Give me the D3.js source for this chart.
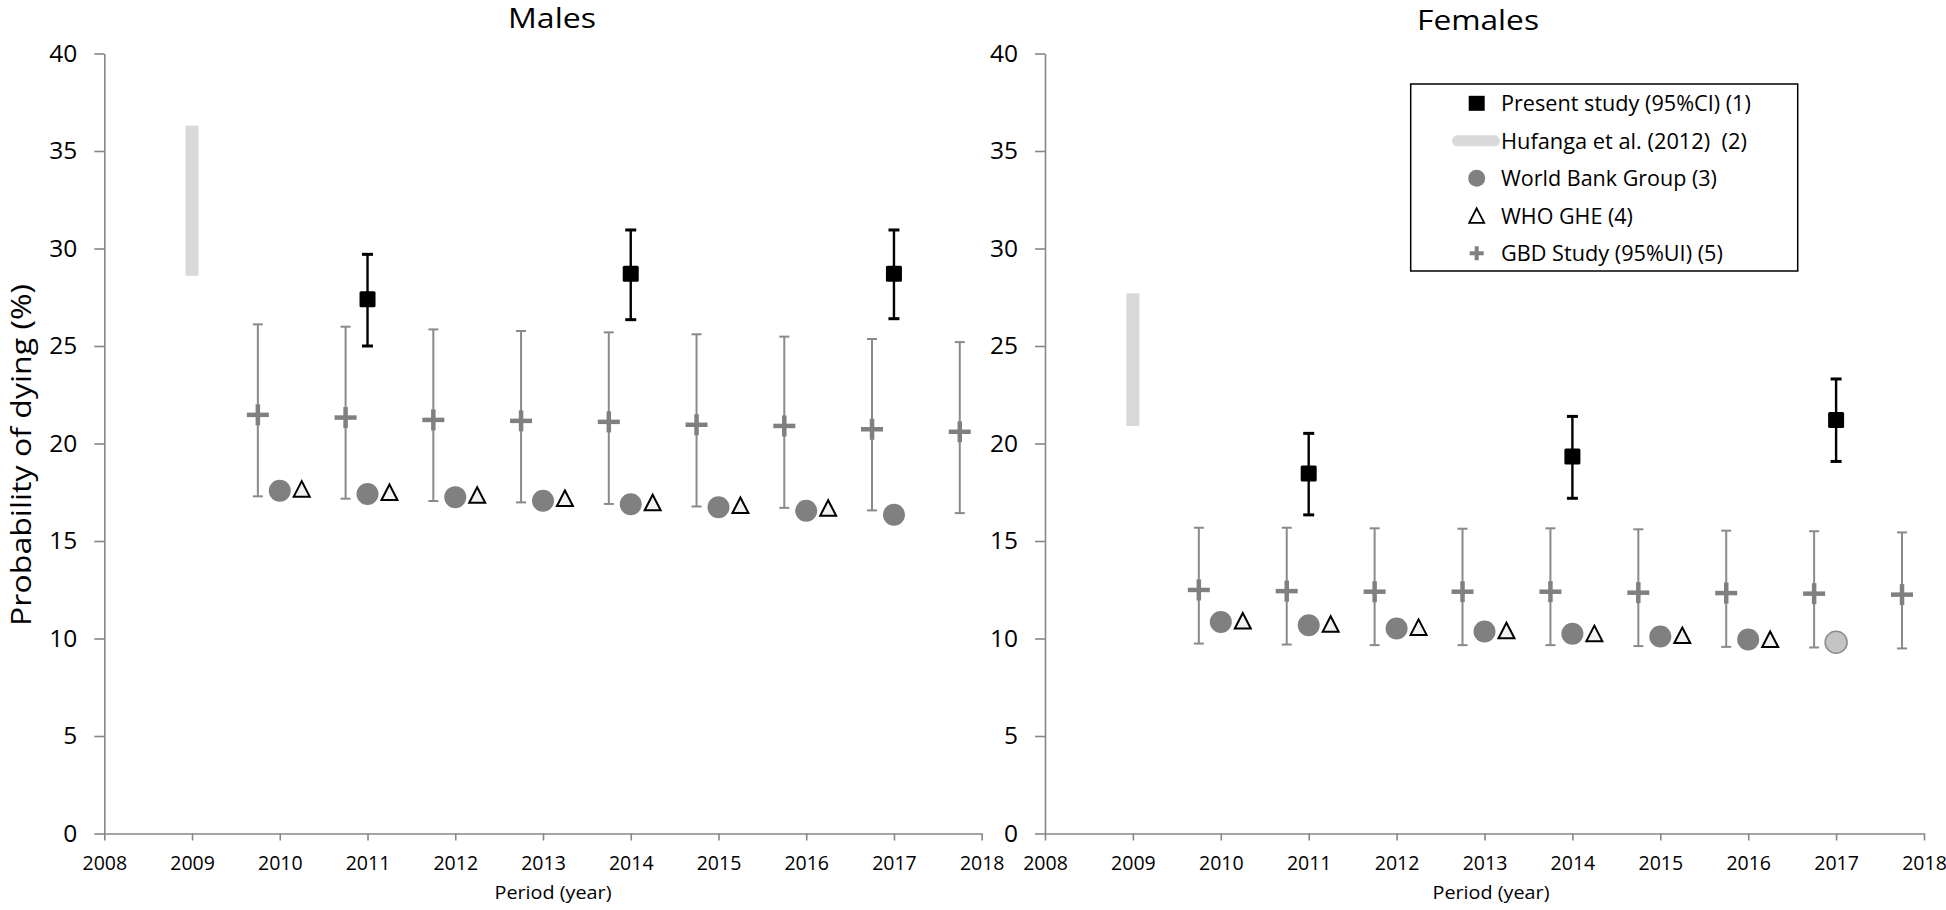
<!DOCTYPE html>
<html><head><meta charset="utf-8">
<script src="https://cdn.jsdelivr.net/npm/d3@7"></script>
<style>
html,body{margin:0;padding:0;background:#fff;}
svg{display:block;font-family:"Open Sans",Lato,sans-serif;}
</style></head>
<body>
<svg id="chart" width="1946" height="910"></svg>
<script>
// ---- data ----
const xTickYears = [2008,2009,2010,2011,2012,2013,2014,2015,2016,2017,2018];
const yTickValues = [0,5,10,15,20,25,30,35,40];

const presentYears = [2011, 2014, 2017];
const gbdYears = [2010,2011,2012,2013,2014,2015,2016,2017,2018];
const wbYears = [2010,2011,2012,2013,2014,2015,2016,2017];
const whoYears = [2010,2011,2012,2013,2014,2015,2016];
const hufangaYear = 2009;

// Males
const malePresent = [27.4, 28.7, 28.7];
const malePresentLo = [25.0, 26.35, 26.4];
const malePresentHi = [29.7, 30.95, 30.95];
const maleHufanga = [28.6, 36.3];
const maleGbd = [21.47, 21.33, 21.21, 21.16, 21.11, 20.96, 20.9, 20.73, 20.6];
const maleGbdLo = [17.29, 17.17, 17.05, 16.98, 16.9, 16.77, 16.7, 16.57, 16.43];
const maleGbdHi = [26.11, 25.99, 25.85, 25.77, 25.7, 25.6, 25.48, 25.36, 25.2];
const maleWb = [17.58, 17.41, 17.25, 17.06, 16.88, 16.73, 16.55, 16.35];
const maleWho = [17.66, 17.49, 17.35, 17.18, 16.96, 16.82, 16.68];

// Females
const femalePresent = [18.46, 19.33, 21.21];
const femalePresentLo = [16.34, 17.19, 19.08];
const femalePresentHi = [20.52, 21.39, 23.31];
const femaleHufanga = [20.9, 27.7];
const femaleGbd = [12.49, 12.43, 12.4, 12.4, 12.4, 12.35, 12.33, 12.3, 12.25];
const femaleGbdLo = [9.74, 9.69, 9.66, 9.66, 9.66, 9.61, 9.57, 9.54, 9.49];
const femaleGbdHi = [15.68, 15.68, 15.65, 15.63, 15.65, 15.6, 15.53, 15.5, 15.44];
const femaleWb = [10.85, 10.68, 10.51, 10.36, 10.24, 10.1, 9.95, 9.81];
const femaleWho = [10.9, 10.73, 10.57, 10.4, 10.25, 10.15, 9.95];
const femaleWbLightYear = 2017;

const legendLabels = ["Present study (95%CI) (1)", "Hufanga et al. (2012)\u00A0\u00A0(2)", "World Bank Group (3)", "WHO GHE (4)", "GBD Study (95%UI) (5)"];
const legendWidths = [250, 246, 216, 132, 222];

// ---- style ----
const axisColor = "#878787";
const gbdColor = "#8a8a8a";
const plusColor = "#808080";
const wbColor = "#808080";
const hufColor = "#d9d9d9";

const svg = d3.select("#chart");
const y = d3.scaleLinear().domain([0,40]).range([833.5, 53.5]);

function zip3(a,b,c){ return a.map((v,i)=>({v, lo:b[i], hi:c[i]})); }

// place a text at (x,y) and stretch it horizontally to a target width
function fitText(sel, x, yy, targetW, anchor, rot){
  sel.attr("x",0).attr("y",0).attr("text-anchor",anchor||"start");
  const w = sel.node().getComputedTextLength();
  const k = w > 0 ? targetW / w : 1;
  sel.attr("transform", `translate(${x},${yy})${rot ? ` rotate(${rot})` : ""} scale(${k},1)`);
}

function drawPanel(opts){
  const x = d3.scaleLinear().domain([2008,2018]).range(opts.xr);
  const g = svg.append("g");

  // y axis
  const ya = g.append("g").attr("transform",`translate(${opts.xr[0]},0)`)
    .call(d3.axisLeft(y).tickValues(yTickValues).tickSize(10).tickPadding(17).tickSizeOuter(0));
  ya.select(".domain").attr("stroke",axisColor).attr("stroke-width",1.6);
  ya.selectAll(".tick line").attr("stroke",axisColor).attr("stroke-width",1.6);
  ya.selectAll(".tick text").attr("font-size",24.5).attr("fill","#000").attr("font-family","Open Sans");

  // x axis
  const xa = g.append("g").attr("transform",`translate(0,${y(0)})`)
    .call(d3.axisBottom(x).tickValues(xTickYears).tickFormat(d3.format("d")).tickSize(7).tickPadding(16).tickSizeOuter(0));
  xa.select(".domain").attr("stroke",axisColor).attr("stroke-width",1.6);
  xa.selectAll(".tick line").attr("stroke",axisColor).attr("stroke-width",1.6);
  xa.selectAll(".tick text").attr("font-size",19.5).attr("fill","#000").attr("font-family","Open Sans");

  // titles
  const t = g.append("text").attr("font-size",26.5).text(opts.title);
  fitText(t, opts.titleX, opts.titleY, opts.titleW, "middle");
  const pt = g.append("text").attr("font-size",18.5).text("Period (year)");
  fitText(pt, opts.xTitleX, 899, 117, "middle");

  // Hufanga bar
  g.append("rect").datum(opts.huf)
    .attr("x", x(hufangaYear)-6.5).attr("width",13)
    .attr("y", d=>y(d[1])).attr("height", d=>y(d[0])-y(d[1]))
    .attr("fill",hufColor);

  // GBD error bars + plus
  const gbdData = zip3(opts.gbd, opts.gbdLo, opts.gbdHi).map((d,i)=>({...d, yr: gbdYears[i]-0.25}));
  const gg = g.append("g").selectAll("g").data(gbdData).join("g");
  gg.append("line").attr("x1",d=>x(d.yr)).attr("x2",d=>x(d.yr)).attr("y1",d=>y(d.lo)).attr("y2",d=>y(d.hi))
    .attr("stroke",gbdColor).attr("stroke-width",2);
  gg.append("line").attr("x1",d=>x(d.yr)-5).attr("x2",d=>x(d.yr)+5).attr("y1",d=>y(d.lo)).attr("y2",d=>y(d.lo))
    .attr("stroke",gbdColor).attr("stroke-width",2);
  gg.append("line").attr("x1",d=>x(d.yr)-5).attr("x2",d=>x(d.yr)+5).attr("y1",d=>y(d.hi)).attr("y2",d=>y(d.hi))
    .attr("stroke",gbdColor).attr("stroke-width",2);
  gg.append("line").attr("x1",d=>x(d.yr)-11).attr("x2",d=>x(d.yr)+11).attr("y1",d=>y(d.v)).attr("y2",d=>y(d.v))
    .attr("stroke",plusColor).attr("stroke-width",4.5);
  gg.append("line").attr("x1",d=>x(d.yr)).attr("x2",d=>x(d.yr)).attr("y1",d=>y(d.v)-10.5).attr("y2",d=>y(d.v)+10.5)
    .attr("stroke",plusColor).attr("stroke-width",4.5);

  // World Bank circles
  g.append("g").selectAll("circle").data(opts.wb.map((v,i)=>({v, yr: wbYears[i]}))).join("circle")
    .attr("cx",d=>x(d.yr)).attr("cy",d=>y(d.v)).attr("r",11)
    .attr("fill",d=> (opts.lightYear===d.yr) ? "#c4c4c4" : wbColor)
    .attr("stroke",d=> (opts.lightYear===d.yr) ? "#8c8c8c" : "none")
    .attr("stroke-width",1.5);

  // WHO triangles
  g.append("g").selectAll("path").data(opts.who.map((v,i)=>({v, yr: whoYears[i]+0.25}))).join("path")
    .attr("d",d=>{ const cx=x(d.yr), cy=y(d.v); return `M${cx},${cy-8}L${cx+8},${cy+7.5}L${cx-8},${cy+7.5}Z`; })
    .attr("fill","#f2f2f2").attr("stroke","#000").attr("stroke-width",2).attr("stroke-linejoin","miter");

  // Present study
  const pd = zip3(opts.pres, opts.presLo, opts.presHi).map((d,i)=>({...d, yr: presentYears[i]}));
  const pg = g.append("g").selectAll("g").data(pd).join("g");
  pg.append("line").attr("x1",d=>x(d.yr)).attr("x2",d=>x(d.yr)).attr("y1",d=>y(d.lo)).attr("y2",d=>y(d.hi))
    .attr("stroke","#000").attr("stroke-width",2.4);
  pg.append("line").attr("x1",d=>x(d.yr)-5.5).attr("x2",d=>x(d.yr)+5.5).attr("y1",d=>y(d.lo)).attr("y2",d=>y(d.lo))
    .attr("stroke","#000").attr("stroke-width",3);
  pg.append("line").attr("x1",d=>x(d.yr)-5.5).attr("x2",d=>x(d.yr)+5.5).attr("y1",d=>y(d.hi)).attr("y2",d=>y(d.hi))
    .attr("stroke","#000").attr("stroke-width",3);
  pg.append("rect").attr("x",d=>x(d.yr)-8).attr("y",d=>y(d.v)-8).attr("width",16).attr("height",16)
    .attr("rx",1.5).attr("fill","#000");
  return x;
}

drawPanel({xr:[104.3,981.7], title:"Males", titleX:552, titleY:28, titleW:88, xTitleX:553,
  huf:maleHufanga, gbd:maleGbd, gbdLo:maleGbdLo, gbdHi:maleGbdHi, wb:maleWb, who:maleWho,
  pres:malePresent, presLo:malePresentLo, presHi:malePresentHi, lightYear:null});
drawPanel({xr:[1045,1924], title:"Females", titleX:1478, titleY:30, titleW:122, xTitleX:1491,
  huf:femaleHufanga, gbd:femaleGbd, gbdLo:femaleGbdLo, gbdHi:femaleGbdHi, wb:femaleWb, who:femaleWho,
  pres:femalePresent, presLo:femalePresentLo, presHi:femalePresentHi, lightYear:femaleWbLightYear});

// y-axis title
const yt = svg.append("text").attr("font-size",28).text("Probability of dying (%)");
fitText(yt, 31, 455, 342, "middle", -90);

// legend
const lg = svg.append("g");
lg.append("rect").attr("x",1410.7).attr("y",84).attr("width",387).attr("height",187)
  .attr("fill","#fff").attr("stroke","#000").attr("stroke-width",1.5);
const rowY = i => 103.3 + i*37.5;
const symX = 1476.7;
lg.selectAll("text").data(legendLabels).join("text")
  .attr("dy","0.36em").attr("font-size",21.5).text(d=>d)
  .each(function(d,i){ fitText(d3.select(this), 1501, rowY(i), legendWidths[i], "start"); });
lg.append("rect").attr("x",symX-8).attr("y",rowY(0)-7.5).attr("width",16).attr("height",15).attr("fill","#000");
lg.append("line").attr("x1",1457.5).attr("x2",1494.5).attr("y1",rowY(1)).attr("y2",rowY(1))
  .attr("stroke",hufColor).attr("stroke-width",11).attr("stroke-linecap","round");
lg.append("circle").attr("cx",symX).attr("cy",rowY(2)).attr("r",8.5).attr("fill",wbColor);
lg.append("path").attr("d",`M${symX},${rowY(3)-7.5}L${symX+7.5},${rowY(3)+7}L${symX-7.5},${rowY(3)+7}Z`)
  .attr("fill","#fff").attr("stroke","#000").attr("stroke-width",1.8);
lg.append("line").attr("x1",symX-7).attr("x2",symX+7).attr("y1",rowY(4)).attr("y2",rowY(4)).attr("stroke",plusColor).attr("stroke-width",4);
lg.append("line").attr("x1",symX).attr("x2",symX).attr("y1",rowY(4)-7).attr("y2",rowY(4)+7).attr("stroke",plusColor).attr("stroke-width",4);
</script>
</body></html>
